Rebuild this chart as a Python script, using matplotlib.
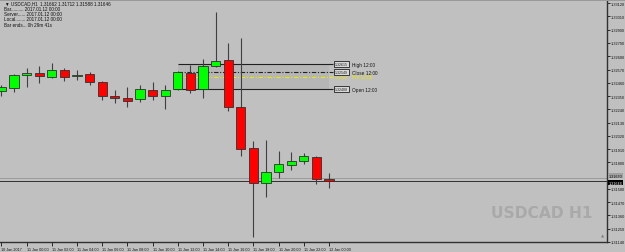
import matplotlib
matplotlib.use("Agg")
import matplotlib.pyplot as plt
from matplotlib.patches import Rectangle

# ---- data ----
opens  = [1.32392, 1.32417, 1.32524, 1.32541, 1.32508, 1.32566, 1.32516, 1.32533, 1.32466,
          1.32350, 1.32334, 1.32325, 1.32400, 1.32350, 1.32408, 1.32541, 1.32408, 1.32599,
          1.32649, 1.32259, 1.31919, 1.31629, 1.31720, 1.31778, 1.31811, 1.31845, 1.31662]
highs  = [1.32441, 1.32533, 1.32582, 1.32599, 1.32624, 1.32582, 1.32566, 1.32549, 1.32475,
          1.32400, 1.32425, 1.32441, 1.32466, 1.32441, 1.32557, 1.32607, 1.32657, 1.33046,
          1.32790, 1.32831, 1.31977, 1.31985, 1.31894, 1.31886, 1.31878, 1.31853, 1.31712]
lows   = [1.32350, 1.32383, 1.32425, 1.32458, 1.32499, 1.32475, 1.32483, 1.32441, 1.32317,
          1.32292, 1.32259, 1.32300, 1.32317, 1.32242, 1.32400, 1.32375, 1.32334, 1.32590,
          1.32226, 1.31853, 1.31181, 1.31513, 1.31670, 1.31737, 1.31787, 1.31621, 1.31588]
closes = [1.32425, 1.32524, 1.32541, 1.32516, 1.32566, 1.32508, 1.32524, 1.32466, 1.32350,
          1.32334, 1.32309, 1.32408, 1.32350, 1.32400, 1.32549, 1.32400, 1.32599, 1.32640,
          1.32259, 1.31911, 1.31629, 1.31720, 1.31787, 1.31811, 1.31853, 1.31662, 1.31646]

xtick_idx = [0, 2, 4, 6, 8, 10, 12, 14, 16, 18, 20, 22, 24, 26]
xtick_labels = ["10 Jan 2017", "11 Jan 00:00", "11 Jan 02:00", "11 Jan 04:00", "11 Jan 06:00",
                "11 Jan 08:00", "11 Jan 10:00", "11 Jan 12:00", "11 Jan 14:00", "11 Jan 16:00",
                "11 Jan 18:00", "11 Jan 20:00", "11 Jan 22:00", "12 Jan 00:00"]
ytick_vals = [1.31140, 1.31250, 1.31360, 1.31470, 1.31580, 1.31690, 1.31800, 1.31910, 1.32020,
              1.32130, 1.32240, 1.32350, 1.32460, 1.32570, 1.32680, 1.32790, 1.32900, 1.33010,
              1.33120]
hidden_tick = 1.31690   # covered by the price boxes in the reference

level_names  = ["High 12:00", "Close 12:00", "Pnt 12:00", "Open 12:00"]
level_prices = [1.32615, 1.32549, 1.32508, 1.32408]
level_start, level_end = 14, 26

bid_price = 1.31646
ask_price = 1.31670
header_lines = ["USDCAD,H1  1.31662 1.31712 1.31588 1.31646",
                "Bar.......... 2017.01.12 00:00",
                "Server...... 2017.01.12 00:00",
                "Local........ 2017.01.12 00:00",
                "Bar ends... 0h 29m 41s"]

# ---- figure ----
W, H = 625, 253
BG = "#c0c0c0"
SMALL = ["Liberation Sans", "DejaVu Sans"]
fig = plt.figure(figsize=(W / 100, H / 100), dpi=100, facecolor=BG)
ax = fig.add_axes([0, 1 - 243 / H, 607 / W, 241 / H], facecolor=BG)
ax.set_xlim(-0.11, 48.06)
ax.set_ylim(1.31140, 1.33138)

# top dark band
fig.patches.append(Rectangle((0, 1 - 2 / H), 1, 2 / H, transform=fig.transFigure,
                             facecolor="#9a9a9a", edgecolor="none"))

# level rectangle and lines
ax.add_patch(Rectangle((level_start, level_prices[3]), level_end - level_start,
                       level_prices[0] - level_prices[3], facecolor="#b6b6b6",
                       edgecolor="none", zorder=1))
ax.hlines(level_prices[0], level_start, level_end + 0.3, color="#202020", lw=0.8, zorder=2)
ax.hlines(level_prices[1], level_start, level_end + 0.3, color="#202020", lw=0.8,
          linestyles=(0, (4, 1.5, 1, 1.5)), zorder=2)
ax.hlines(level_prices[2], level_start, level_end + 0.3, color="#e8e800", lw=0.8,
          linestyles=(0, (4, 1.5, 1, 1.5)), zorder=2)
ax.hlines(level_prices[3], level_start - 0.3, level_end + 0.3, color="#202020", lw=0.8, zorder=2)

# current price lines
ax.axhline(ask_price, color="#9a9a9a", lw=0.7, zorder=2)
ax.axhline(bid_price, color="#303030", lw=0.7, zorder=2)

# candles
w = 0.72
for i, (o, h, l, c) in enumerate(zip(opens, highs, lows, closes)):
    ax.vlines(i, l, h, color="#404040", lw=0.8, zorder=3)
    col = "#00ff00" if c >= o else "#ff0000"
    lo_, hi_ = min(o, c), max(o, c)
    ax.add_patch(Rectangle((i - w / 2, lo_), w, max(hi_ - lo_, 0.00002), facecolor=col,
                           edgecolor="#303030", lw=0.6, zorder=4))

# level labels
for name, p in zip(level_names, level_prices):
    is_y = name.startswith("Pnt")
    if is_y:
        ax.text(level_end + 0.45, p, f"{p:.5f}", fontsize=2.6, color="#e8e800",
                va="center", ha="left", zorder=6, family=SMALL)
    else:
        ax.text(level_end + 0.45, p, f"{p:.5f}", fontsize=2.6, color="#202020",
                va="center", ha="left", zorder=6, family=SMALL,
                bbox=dict(boxstyle="square,pad=0.3", fc="#d8d8d8", ec="#202020", lw=0.6))
    ax.text(level_end + 1.85, p, name, fontsize=3.4, family=SMALL,
            color="#e8e800" if is_y else "#101010", va="center", ha="left", zorder=6)

# watermark
ax.text(0.893, 0.124, "USDCAD H1", transform=ax.transAxes, fontsize=11.2, fontweight="bold",
        color="#a9a9a9", ha="center", va="center", family="DejaVu Sans", zorder=0)

# header text
for k, line in enumerate(header_lines):
    ax.text(0.008 if k == 0 else 0.006, 1 - (4 + 5.3 * k - 2) / 241,
            ("\u25BC " if k == 0 else "") + line, family=SMALL,
            transform=ax.transAxes, fontsize=3.3, color="#101010", va="center", ha="left")

# axes styling
for s in ["left", "top"]:
    ax.spines[s].set_visible(False)
for s in ["right", "bottom"]:
    ax.spines[s].set_color("#303030")
    ax.spines[s].set_linewidth(1.0)
ax.yaxis.tick_right()
ax.set_yticks(ytick_vals)
ax.set_yticklabels(["" if abs(v - hidden_tick) < 1e-7 else f"{v:.5f}" for v in ytick_vals],
                   family=SMALL)
ax.tick_params(axis="y", length=2, width=0.6, pad=1, labelsize=2.8, colors="#101010")
ax.set_xticks(xtick_idx)
ax.set_xticklabels(xtick_labels, ha="left", family=SMALL)
ax.tick_params(axis="x", length=3, width=0.6, pad=0.5, labelsize=2.7, colors="#101010")

# price boxes on right axis
ax.annotate(f"{ask_price:.5f}", xy=(1.003, ask_price), xycoords=ax.get_yaxis_transform(),
            xytext=(0, 1.6), textcoords="offset points",
            fontsize=2.7, color="#101010", va="center", ha="left", zorder=7, family=SMALL,
            bbox=dict(boxstyle="square,pad=0.15", fc="#a0a0a0", ec="none"), annotation_clip=False)
ax.annotate(f"{bid_price:.5f}", xy=(1.003, bid_price), xycoords=ax.get_yaxis_transform(),
            xytext=(0, -1.2), textcoords="offset points",
            fontsize=2.7, color="white", va="center", ha="left", zorder=7, family=SMALL,
            bbox=dict(boxstyle="square,pad=0.15", fc="#000000", ec="none"), annotation_clip=False)

# shift marker
ax.text(0.993, 0.02, "\u25B2", transform=ax.transAxes, fontsize=3.0, color="#808080",
        ha="center", va="bottom")

fig.savefig("out.png", dpi=100, facecolor=BG)
